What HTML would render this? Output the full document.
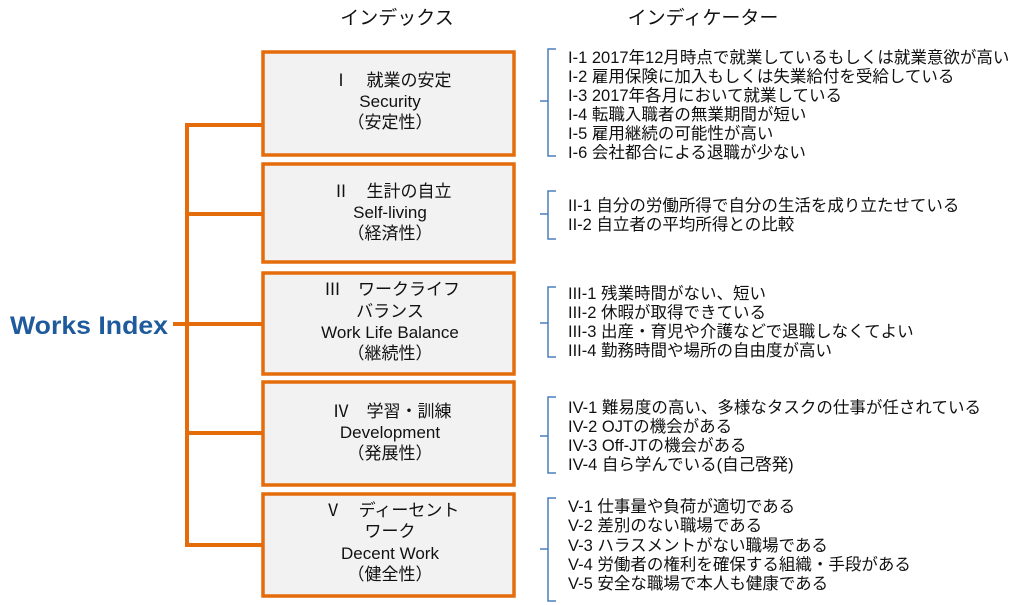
<!DOCTYPE html>
<html><head><meta charset="utf-8"><style>
body{margin:0;background:#fff;}
svg{display:block;font-family:"Liberation Sans","Noto Sans CJK JP",sans-serif;}
.b{fill:#f2f2f2;stroke:#e46c0a;stroke-width:3.5;}
.c text{font-size:17px;fill:#111;text-anchor:middle;}
.i text{font-size:16.5px;fill:#111;}
.br{fill:none;stroke:#4a7ebb;stroke-width:1.5;}
</style></head><body>
<svg width="1025" height="605" viewBox="0 0 1025 605">
<text x="397" y="24" font-size="19" text-anchor="middle" fill="#111">インデックス</text>
<text x="703" y="24" font-size="19" text-anchor="middle" fill="#111">インディケーター</text>
<text x="10" y="334" font-size="25" font-weight="bold" fill="#1f5a9c" textLength="158" lengthAdjust="spacingAndGlyphs">Works Index</text>
<g stroke="#e46c0a" stroke-width="4" fill="none">
<line x1="173" y1="324" x2="187" y2="324"/>
<line x1="187" y1="123" x2="187" y2="547"/>
<line x1="187" y1="125" x2="262" y2="125"/>
<line x1="187" y1="214" x2="262" y2="214"/>
<line x1="187" y1="324" x2="262" y2="324"/>
<line x1="187" y1="433" x2="262" y2="433"/>
<line x1="187" y1="545" x2="262" y2="545"/>
</g>
<rect class="b" x="263" y="52" width="251" height="103"/>
<rect class="b" x="263" y="164" width="251" height="98"/>
<rect class="b" x="263" y="273" width="251" height="101"/>
<rect class="b" x="263" y="382" width="251" height="103"/>
<rect class="b" x="263" y="494" width="251" height="102"/>
<g class="c">
<text x="392" y="86">Ⅰ　就業の安定</text><text x="390" y="107">Security</text><text x="390" y="128">（安定性）</text>
<text x="392" y="197">Ⅱ　生計の自立</text><text x="390" y="218">Self-living</text><text x="390" y="239">（経済性）</text>
<text x="392" y="295">Ⅲ　ワークライフ</text><text x="390" y="317">バランス</text><text x="390" y="338">Work Life Balance</text><text x="390" y="359">（継続性）</text>
<text x="392" y="417">Ⅳ　学習・訓練</text><text x="390" y="438">Development</text><text x="390" y="459">（発展性）</text>
<text x="392" y="516">Ⅴ　ディーセント</text><text x="390" y="537">ワーク</text><text x="390" y="559">Decent Work</text><text x="390" y="580">（健全性）</text>
</g>
<g class="br">
<path d="M556,49 H548 V101 H540 M548,101 V156 H556"/>
<path d="M556,191 H548 V214 H540 M548,214 V239 H556"/>
<path d="M556,287 H548 V323 H540 M548,323 V357 H556"/>
<path d="M556,397 H548 V436 H540 M548,436 V473 H556"/>
<path d="M556,498 H548 V549 H540 M548,549 V601 H556"/>
</g>
<g class="i">
<text x="568" y="63">I-1 2017年12月時点で就業しているもしくは就業意欲が高い</text>
<text x="568" y="82">I-2 雇用保険に加入もしくは失業給付を受給している</text>
<text x="568" y="101">I-3 2017年各月において就業している</text>
<text x="568" y="120">I-4 転職入職者の無業期間が短い</text>
<text x="568" y="139">I-5 雇用継続の可能性が高い</text>
<text x="568" y="158">I-6 会社都合による退職が少ない</text>
<text x="568" y="211">II-1 自分の労働所得で自分の生活を成り立たせている</text>
<text x="568" y="230">II-2 自立者の平均所得との比較</text>
<text x="568" y="299">III-1 残業時間がない、短い</text>
<text x="568" y="318">III-2 休暇が取得できている</text>
<text x="568" y="337">III-3 出産・育児や介護などで退職しなくてよい</text>
<text x="568" y="356">III-4 勤務時間や場所の自由度が高い</text>
<text x="568" y="413">IV-1 難易度の高い、多様なタスクの仕事が任されている</text>
<text x="568" y="432">IV-2 OJTの機会がある</text>
<text x="568" y="451">IV-3 Off-JTの機会がある</text>
<text x="568" y="470">IV-4 自ら学んでいる(自己啓発)</text>
<text x="568" y="512">V-1 仕事量や負荷が適切である</text>
<text x="568" y="531">V-2 差別のない職場である</text>
<text x="568" y="551">V-3 ハラスメントがない職場である</text>
<text x="568" y="570">V-4 労働者の権利を確保する組織・手段がある</text>
<text x="568" y="589">V-5 安全な職場で本人も健康である</text>
</g>
</svg>
</body></html>
